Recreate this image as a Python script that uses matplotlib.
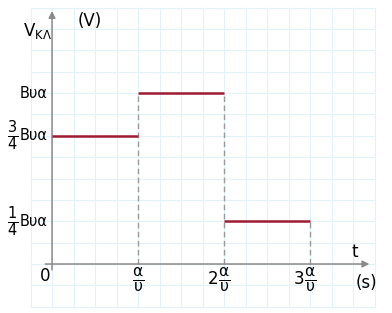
import matplotlib
matplotlib.use("Agg")
import matplotlib.pyplot as plt
import numpy as np

# piecewise voltage V_KL(t), t in units of a/u, V in units of Bua
t_starts = [0, 1, 2]
t_ends = [1, 2, 3]
levels = [0.75, 1.0, 0.25]

# dashed guide lines (t position, top)
guide_t = [1, 2, 3]
guide_top = [1.0, 1.0, 0.25]

y_tick_vals = [1.0, 0.75, 0.25]
y_tick_frac = ["", r"$\frac{3}{4}$", r"$\frac{1}{4}$"]
x_tick_vals = [1, 2, 3]
x_tick_mult = ["", "2", "3"]

plt.rcParams["font.family"] = ["DejaVu Sans"]
plt.rcParams["mathtext.fontset"] = "dejavusans"

fig = plt.figure(figsize=(3.92, 3.13), dpi=100)
ax = fig.add_axes([0, 0, 1, 1])
ax.set_xlim(-0.605, 3.953)
ax.set_ylim(-0.2865, 1.544)
ax.axis("off")

# light graph-paper grid
grid_c = "#e2f2f8"
for gx in np.arange(-0.25, 3.76, 0.25):
    ax.plot([gx, gx], [-0.25, 1.5], color=grid_c, lw=0.8, zorder=0)
for gy in np.arange(-0.25, 1.51, 0.125):
    ax.plot([-0.25, 3.75], [gy, gy], color=grid_c, lw=0.8, zorder=0)

# axes with arrows
axis_c = "#8a8a8a"
ax.annotate("", xy=(0, 1.48), xytext=(0, -0.035),
            arrowprops=dict(arrowstyle="-|>", color=axis_c, lw=1.1,
                            mutation_scale=10, shrinkA=0, shrinkB=0))
ax.annotate("", xy=(3.69, 0), xytext=(-0.08, 0),
            arrowprops=dict(arrowstyle="-|>", color=axis_c, lw=1.1,
                            mutation_scale=10, shrinkA=0, shrinkB=0))

# dashed guides
for gt, top in zip(guide_t, guide_top):
    ax.plot([gt, gt], [0, top], color="#999999", lw=1.0, ls=(0, (4, 2.5)), zorder=1)

# signal
for a, b, v in zip(t_starts, t_ends, levels):
    ax.plot([a, b], [v, v], color="#9e1b32", lw=1.8, solid_capstyle="butt", zorder=3)

# y labels
for v, frac in zip(y_tick_vals, y_tick_frac):
    ax.text(-0.05, v, "Bυα", ha="right", va="center", fontsize=10.5)
    if frac:
        ax.text(-0.39, v, frac, ha="right", va="center", fontsize=15)

# x labels
for xv, m in zip(x_tick_vals, x_tick_mult):
    ax.text(xv, -0.09, r"$\frac{\mathrm{\alpha}}{\mathrm{\upsilon}}$",
            ha="center", va="center", fontsize=16)
    if m:
        ax.text(xv - 0.07, -0.09, m, ha="right", va="center", fontsize=12)
ax.text(-0.08, -0.07, "0", ha="center", va="center", fontsize=12)

# axis titles
ax.text(-0.17, 1.36, r"V$_{\mathrm{K\Lambda}}$", ha="center", va="center", fontsize=12)
ax.text(0.44, 1.42, "(V)", ha="center", va="center", fontsize=12)
ax.text(3.52, 0.07, "t", ha="center", va="center", fontsize=12)
ax.text(3.65, -0.11, "(s)", ha="center", va="center", fontsize=12)

fig.savefig("out.png", dpi=100)
